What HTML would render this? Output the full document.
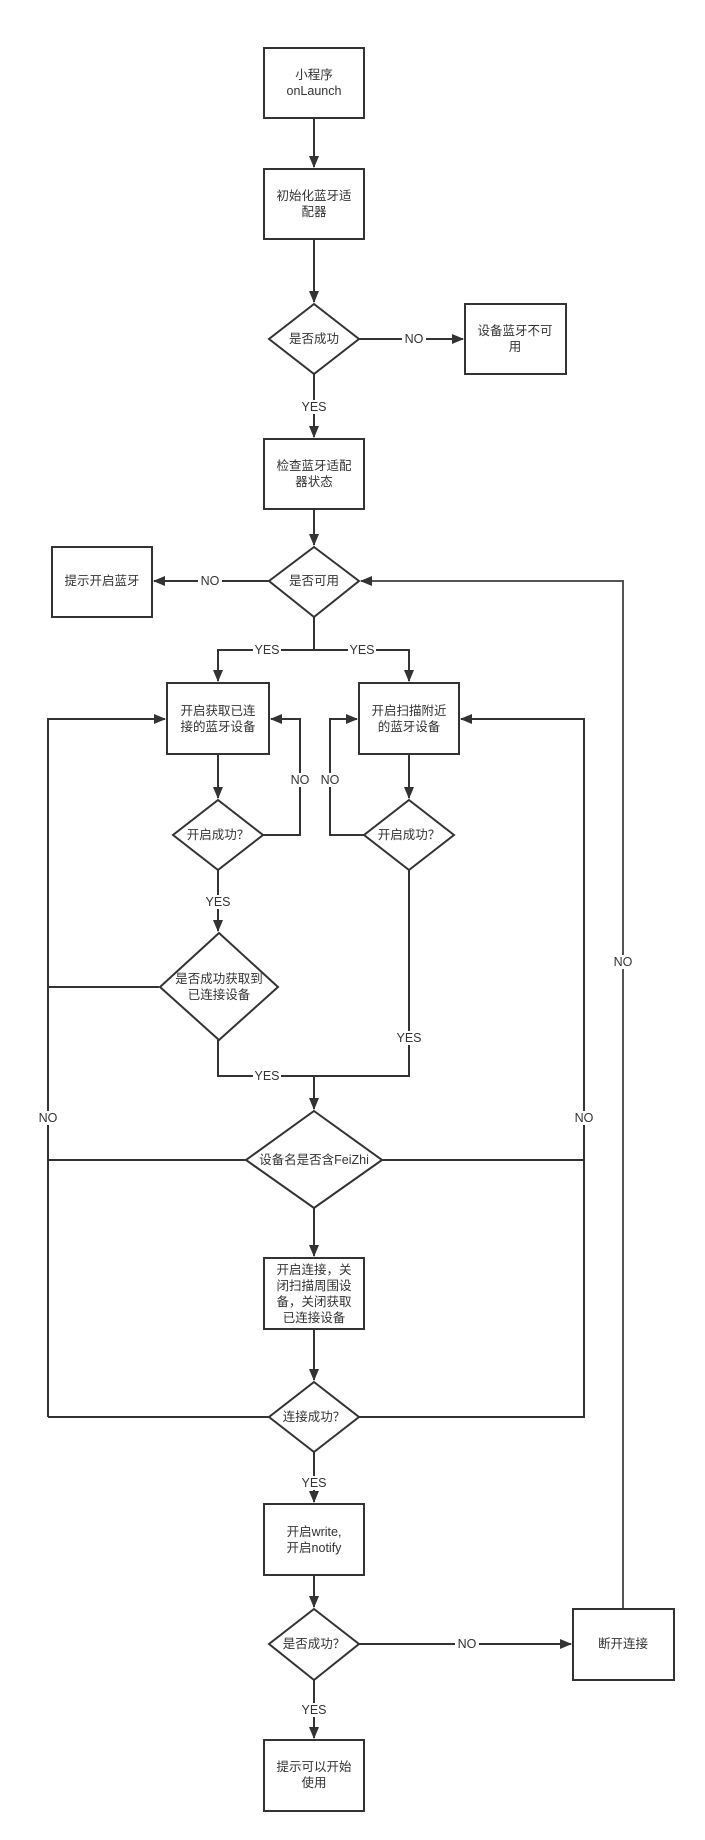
<!DOCTYPE html>
<html><head><meta charset="utf-8"><style>
html,body{margin:0;padding:0;background:#fff;}
svg{display:block;}
text{font-family:"Liberation Sans","Noto Sans CJK SC",sans-serif;font-size:12.5px;fill:#333;text-anchor:middle;dominant-baseline:central;}
.l{stroke:#333;stroke-width:2;fill:none;}
.s{stroke:#333;stroke-width:2;fill:#fff;}
.lb{fill:#fff;}
</style></head><body>
<svg width="705" height="1840" viewBox="0 0 705 1840" xmlns="http://www.w3.org/2000/svg">
<defs><marker id="a" markerWidth="12" markerHeight="10" refX="11" refY="5" orient="auto" markerUnits="userSpaceOnUse"><path d="M0,0 L12,5 L0,10 z" fill="#333"/></marker></defs>

<path class="l" d="M314,118 V167" marker-end="url(#a)"/>
<path class="l" d="M314,239 V302" marker-end="url(#a)"/>
<path class="l" d="M359,339 H463" marker-end="url(#a)"/>
<path class="l" d="M314,374 V437" marker-end="url(#a)"/>
<path class="l" d="M314,509 V545" marker-end="url(#a)"/>
<path class="l" d="M269,581 H154" marker-end="url(#a)"/>
<path class="l" d="M314,617 V650 H218 V681" marker-end="url(#a)"/>
<path class="l" d="M314,650 H409 V681" marker-end="url(#a)"/>
<path class="l" d="M218,754 V798" marker-end="url(#a)"/>
<path class="l" d="M409,754 V798" marker-end="url(#a)"/>
<path class="l" d="M263,835 H300 V719 H271" marker-end="url(#a)"/>
<path class="l" d="M364,835 H330 V719 H357" marker-end="url(#a)"/>
<path class="l" d="M218,870 V931" marker-end="url(#a)"/>
<path class="l" d="M159,987 H48 V719 H165" marker-end="url(#a)"/>
<path class="l" d="M48,987 V1417"/>
<path class="l" d="M218,1040 V1076 H314"/>
<path class="l" d="M409,870 V1076 H314 V1109" marker-end="url(#a)"/>
<path class="l" d="M247,1160 H48"/>
<path class="l" d="M382,1160 H584 V719 H461" marker-end="url(#a)"/>
<path class="l" d="M314,1208 V1256" marker-end="url(#a)"/>
<path class="l" d="M314,1329 V1380" marker-end="url(#a)"/>
<path class="l" d="M269,1417 H48"/>
<path class="l" d="M359,1417 H584 V1160"/>
<path class="l" d="M314,1452 V1502" marker-end="url(#a)"/>
<path class="l" d="M314,1575 V1607" marker-end="url(#a)"/>
<path class="l" d="M359,1644 H571" marker-end="url(#a)"/>
<path class="l" d="M314,1680 V1738" marker-end="url(#a)"/>
<path class="l" style="stroke:#555" d="M623,1609 V581 H361" marker-end="url(#a)"/>

<rect class="lb" x="402" y="332" width="24" height="14"/><text x="414" y="339">NO</text>
<rect class="lb" x="300" y="400" width="28" height="14"/><text x="314" y="407">YES</text>
<rect class="lb" x="198" y="574" width="24" height="14"/><text x="210" y="581">NO</text>
<rect class="lb" x="253" y="643" width="28" height="14"/><text x="267" y="650">YES</text>
<rect class="lb" x="348" y="643" width="28" height="14"/><text x="362" y="650">YES</text>
<rect class="lb" x="288" y="773" width="24" height="14"/><text x="300" y="780">NO</text>
<rect class="lb" x="318" y="773" width="24" height="14"/><text x="330" y="780">NO</text>
<rect class="lb" x="204" y="895" width="28" height="14"/><text x="218" y="902">YES</text>
<rect class="lb" x="395" y="1031" width="28" height="14"/><text x="409" y="1038">YES</text>
<rect class="lb" x="253" y="1069" width="28" height="14"/><text x="267" y="1076">YES</text>
<rect class="lb" x="36" y="1111" width="24" height="14"/><text x="48" y="1118">NO</text>
<rect class="lb" x="572" y="1111" width="24" height="14"/><text x="584" y="1118">NO</text>
<rect class="lb" x="611" y="955" width="24" height="14"/><text x="623" y="962">NO</text>
<rect class="lb" x="300" y="1476" width="28" height="14"/><text x="314" y="1483">YES</text>
<rect class="lb" x="455" y="1637" width="24" height="14"/><text x="467" y="1644">NO</text>
<rect class="lb" x="300" y="1703" width="28" height="14"/><text x="314" y="1710">YES</text>

<rect class="s" x="264" y="48" width="100" height="70"/>
<text x="314" y="75">小程序</text><text x="314" y="91">onLaunch</text>
<rect class="s" x="264" y="169" width="100" height="70"/>
<text x="314" y="196">初始化蓝牙适</text><text x="314" y="212">配器</text>
<polygon class="s" points="314,304 359,339 314,374 269,339"/>
<text x="314" y="339">是否成功</text>
<rect class="s" x="465" y="304" width="101" height="70"/>
<text x="515" y="331">设备蓝牙不可</text><text x="515" y="347">用</text>
<rect class="s" x="264" y="439" width="100" height="70"/>
<text x="314" y="466">检查蓝牙适配</text><text x="314" y="482">器状态</text>
<polygon class="s" points="314,547 359,581 314,617 269,581"/>
<text x="314" y="581">是否可用</text>
<rect class="s" x="52" y="547" width="100" height="70"/>
<text x="102" y="581">提示开启蓝牙</text>
<rect class="s" x="167" y="683" width="102" height="71"/>
<text x="218" y="711">开启获取已连</text><text x="218" y="727">接的蓝牙设备</text>
<rect class="s" x="359" y="683" width="100" height="71"/>
<text x="409" y="711">开启扫描附近</text><text x="409" y="727">的蓝牙设备</text>
<polygon class="s" points="218,800 263,835 218,870 173,835"/>
<text x="218" y="835">开启成功？</text>
<polygon class="s" points="409,800 454,835 409,870 364,835"/>
<text x="409" y="835">开启成功？</text>
<polygon class="s" points="219,933 278,987 219,1040 160,987"/>
<text x="219" y="979">是否成功获取到</text><text x="219" y="995">已连接设备</text>
<polygon class="s" points="314,1111 382,1160 314,1208 246,1160"/>
<text x="314" y="1160">设备名是否含FeiZhi</text>
<rect class="s" x="264" y="1258" width="100" height="71"/>
<text x="314" y="1270">开启连接，关</text><text x="314" y="1286">闭扫描周围设</text><text x="314" y="1302">备，关闭获取</text><text x="314" y="1318">已连接设备</text>
<polygon class="s" points="314,1382 359,1417 314,1452 269,1417"/>
<text x="314" y="1417">连接成功？</text>
<rect class="s" x="264" y="1504" width="100" height="71"/>
<text x="314" y="1532">开启write,</text><text x="314" y="1548">开启notify</text>
<polygon class="s" points="314,1609 359,1644 314,1680 269,1644"/>
<text x="314" y="1644">是否成功？</text>
<rect class="s" x="573" y="1609" width="101" height="71"/>
<text x="623" y="1644">断开连接</text>
<rect class="s" x="264" y="1740" width="100" height="71"/>
<text x="314" y="1767">提示可以开始</text><text x="314" y="1783">使用</text>
</svg>
</body></html>
